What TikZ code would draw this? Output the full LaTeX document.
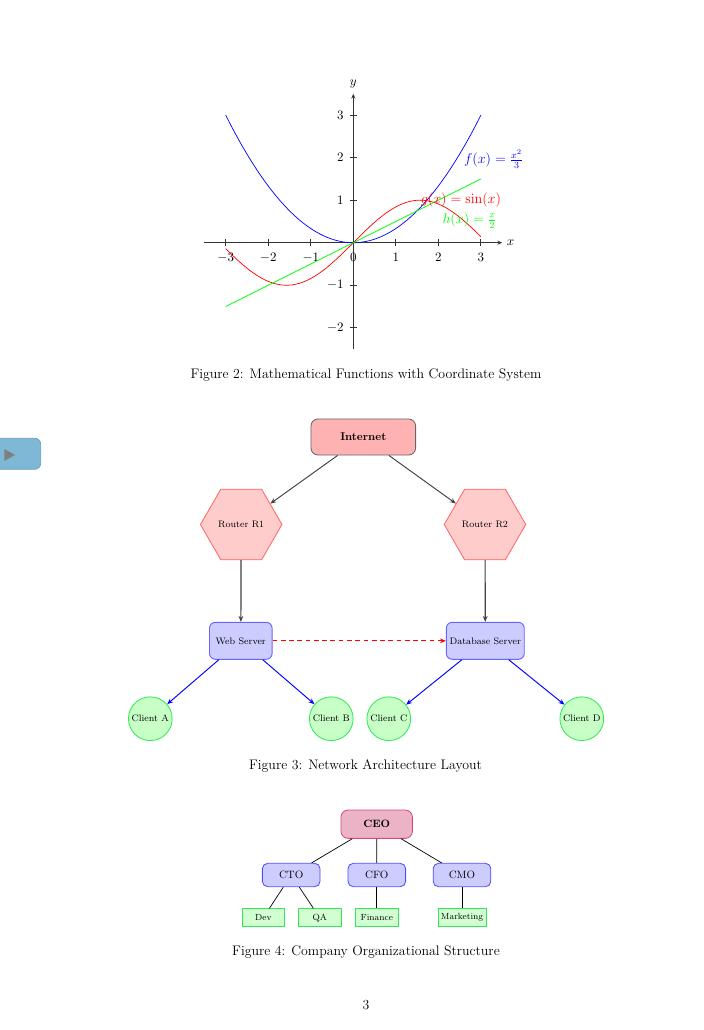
\documentclass[tikz,border=0pt]{standalone}
\usetikzlibrary{shapes.geometric,arrows.meta}
\definecolor{tabblue}{HTML}{7FB8D6}
\definecolor{tabedge}{HTML}{6C9EBA}
\definecolor{brightgreen}{HTML}{33E855}
\begin{document}
\begin{tikzpicture}[x=0.8464pt,y=-0.8464pt,
  axisline/.style={draw=black!80, line width=0.9pt, -{Stealth[length=4pt,width=3.5pt]}},
  tickmark/.style={draw=black!80, line width=0.7pt},
  ticklbl/.style={font=\fontsize{10.5}{12}\selectfont, inner sep=0pt},
  fnlbl/.style={font=\fontsize{12}{14}\selectfont, inner sep=0pt},
  curve/.style={line width=0.6pt},
  capt/.style={font=\fontsize{11.7}{14}\selectfont, inner sep=0pt},
  inet/.style={rectangle, rounded corners=6pt, draw=black!60, fill=red!30, line width=0.7pt,
    minimum width=88.6pt, minimum height=30.5pt, font=\fontsize{9.5}{11}\selectfont\bfseries},
  router/.style={regular polygon, regular polygon sides=6, draw=red!60, fill=red!20, line width=0.7pt,
    minimum size=69pt, inner sep=0pt, font=\fontsize{8}{9.6}\selectfont},
  server/.style={rectangle, rounded corners=5pt, draw=blue!60, fill=blue!20, line width=0.8pt,
    minimum width=53pt, minimum height=31.3pt, inner sep=2.8pt, font=\fontsize{8}{9.6}\selectfont},
  client/.style={circle, draw=brightgreen, fill=green!22, line width=0.7pt,
    minimum size=37pt, inner sep=0.5pt, font=\fontsize{8}{9.6}\selectfont},
  netarrow/.style={draw=black!75, line width=0.8pt, -{Stealth[length=5pt,width=4pt]}},
  downarrow/.style={draw=black!75, line width=1pt, -{Stealth[length=5pt,width=4pt]}},
  dasharrow/.style={draw=red, line width=0.8pt, dash pattern=on 4pt off 3pt, -{Stealth[length=5pt,width=4pt]}},
  clientarrow/.style={draw=blue, line width=0.8pt, -{Stealth[length=5pt,width=4pt]}},
  ceo/.style={rectangle, rounded corners=6pt, draw=purple!70, fill=purple!30, line width=0.7pt,
    minimum width=60.4pt, minimum height=24pt, font=\fontsize{9}{11}\selectfont\bfseries},
  mgr/.style={rectangle, rounded corners=4.5pt, draw=blue!70, fill=blue!20, line width=0.7pt,
    minimum width=48.8pt, minimum height=19.8pt, font=\fontsize{9}{11}\selectfont},
  dept/.style={rectangle, draw=brightgreen, fill=green!18, line width=0.7pt,
    minimum width=36pt, minimum height=15.2pt, inner sep=2.5pt, font=\fontsize{7.5}{9}\selectfont},
  orgline/.style={draw=black, line width=0.6pt}
]
\useasboundingbox (0,0) rectangle (703,1030);

% side tab
\draw[draw=tabedge, fill=tabblue, line width=0.6pt, rounded corners=5pt] (-12,438.3) rectangle (40.7,469.3);
\fill[gray] (4.3,449) -- (15,455) -- (4.3,461) -- cycle;

% ---------- Figure 2: plot ----------
\coordinate (O) at (353.3,242.7);
\begin{scope}[shift={(O)}, x=36pt, y=36pt]
  \draw[axisline] (-3.5,0) -- (3.5,0);
  \draw[axisline] (0,-2.5) -- (0,3.5);
  \node[ticklbl] (xlab) at (3.7,0) {$x$};
  \node[ticklbl] (ylab) at (0,3.73) {$y$};
  \foreach \t in {-3,...,3} {
    \draw[tickmark] (\t,-0.08) -- (\t,0.08);
    \node[ticklbl, anchor=north] (xt\t) at (\t,-0.25) {$\t$};
  }
  \foreach \t in {-2,-1,1,2,3} {
    \draw[tickmark] (-0.08,\t) -- (0.08,\t);
    \node[ticklbl, anchor=east] (yt\t) at (-0.22,\t) {$\t$};
  }
  \draw[curve, blue, domain=-3:3, samples=90, smooth] plot (\x,{\x*\x/3});
  \draw[curve, red, domain=-3:3, samples=90, smooth] plot (\x,{sin(\x r)});
  \draw[curve, green] (-3,-1.5) -- (3,1.5);
  \node[fnlbl, blue] (flab) at (3.3,1.96) {$f(x) = \frac{x^2}{3}$};
  \node[fnlbl, red] (glab) at (2.53,1.0) {$g(x) = \sin(x)$};
  \node[fnlbl, green] (hlab) at (2.73,0.52) {$h(x) = \frac{x}{2}$};
\end{scope}
\node[capt] (cap2) at (366,375) {Figure 2: Mathematical Functions with Coordinate System};

% ---------- Figure 3: network ----------
\node[inet] (inet) at (363.3,437) {Internet};
\node[router] (r1) at (241.2,524.5) {Router R1};
\node[router] (r2) at (485,524.5) {Router R2};
\node[server] (web) at (240.8,640.8) {Web Server};
\node[server] (db) at (485.3,640.8) {Database Server};
\node[client] (ca) at (150.3,718.7) {Client A};
\node[client] (cb) at (331.3,718.7) {Client B};
\node[client] (cc) at (388.8,718.7) {Client C};
\node[client] (cd) at (581.8,718.7) {Client D};
\draw[netarrow] (inet) -- (r1);
\draw[netarrow] (inet) -- (r2);
\draw[downarrow] (r1) -- (web);
\draw[downarrow] (r2) -- (db);
\draw[dasharrow] (web) -- (db);
\draw[clientarrow] (web) -- (ca);
\draw[clientarrow] (web) -- (cb);
\draw[clientarrow] (db) -- (cc);
\draw[clientarrow] (db) -- (cd);
\node[capt] (cap3) at (365.5,766) {Figure 3: Network Architecture Layout};

% ---------- Figure 4: org chart ----------
\node[ceo] (ceo) at (376.7,824.2) {CEO};
\node[mgr] (cto) at (291.2,875) {CTO};
\node[mgr] (cfo) at (376.8,875) {CFO};
\node[mgr] (cmo) at (462,875) {CMO};
\node[dept] (dev) at (263.3,917.7) {Dev};
\node[dept] (qa) at (319.7,917.7) {QA};
\node[dept] (fin) at (376.8,917.7) {Finance};
\node[dept] (mkt) at (462,917.7) {Marketing};
\draw[orgline] (ceo) -- (cto);
\draw[orgline] (ceo) -- (cfo);
\draw[orgline] (ceo) -- (cmo);
\draw[orgline] (cto) -- (dev);
\draw[orgline] (cto) -- (qa);
\draw[orgline] (cfo) -- (fin);
\draw[orgline] (cmo) -- (mkt);
\node[capt] (cap4) at (366,952) {Figure 4: Company Organizational Structure};

\node[capt] (page) at (366,1005) {3};
\end{tikzpicture}
\end{document}
